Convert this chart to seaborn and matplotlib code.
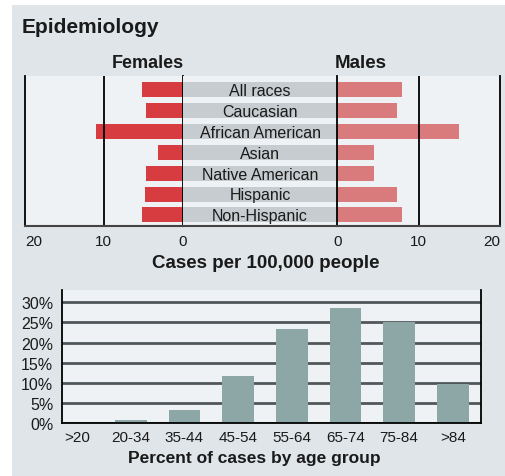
import matplotlib.pyplot as plt
import matplotlib.patches as mpatches
import numpy as np
import pandas as pd
import seaborn as sns

sns.set_theme(style="white")
plt.rcParams["font.family"] = ["Liberation Sans", "DejaVu Sans"]

races = ["All races", "Caucasian", "African American", "Asian",
         "Native American", "Hispanic", "Non-Hispanic"]
female_rates = [5.2, 4.6, 11.0, 3.1, 4.6, 4.8, 5.2]
male_rates = [7.9, 7.4, 14.9, 4.5, 4.5, 7.4, 7.9]

age_groups = [">20", "20-34", "35-44", "45-54", "55-64", "65-74", "75-84", ">84"]
age_pct = [0.0, 0.8, 3.3, 11.8, 23.4, 28.5, 25.1, 9.7]

rate_ticks = [20, 10, 0]
pct_ticks = [0, 5, 10, 15, 20, 25, 30]

bg = "#dfe5e8"
panel = "#eef2f4"
red_f = "#d63c40"
red_m = "#d97a7d"
band = "#c6cccf"
teal = "#8ca7a5"
grid_c = "#50575b"
txt = "#1a1a1a"

W, H = 505, 477
fig = plt.figure(figsize=(W / 100, H / 100), dpi=100, facecolor="white")
fig.patches.append(mpatches.Rectangle((12 / W, 0), 1, 1 - 6 / H,
                                      transform=fig.transFigure,
                                      facecolor=bg, edgecolor="none", zorder=-10))


def rect(x0, y0, x1, y1):
    return [x0 / W, 1 - y1 / H, (x1 - x0) / W, (y1 - y0) / H]


top, bot = 77, 227
xf0, xf1 = 25, 182.7
xm0, xm1 = 337.3, 500
ylim = (6.53, -0.66)

df_r = pd.DataFrame({"race": races, "female": female_rates, "male": male_rates})

# females
axF = fig.add_axes(rect(xf0, top, xf1, bot), facecolor=panel)
sns.barplot(data=df_r, x="female", y="race", orient="h", color=red_f,
            width=0.72, saturation=1, linewidth=0, ax=axF)
axF.set_xlim(20, 0)
axF.set_ylim(*ylim)
axF.axvline(10, color="black", lw=1.3)

# center band
axC = fig.add_axes(rect(xf1, top, xm0, bot), facecolor=panel)
axC.barh(np.arange(len(races)), 1, height=0.72, color=band, linewidth=0)
for i, r in enumerate(races):
    axC.text(0.5, i + 0.04, r, ha="center", va="center", fontsize=11.5, color=txt)
axC.set_xlim(0, 1)
axC.set_ylim(*ylim)

# males
axM = fig.add_axes(rect(xm0, top, xm1, bot), facecolor=panel)
sns.barplot(data=df_r, x="male", y="race", orient="h", color=red_m,
            width=0.72, saturation=1, linewidth=0, ax=axM)
axM.set_xlim(0, 20)
axM.set_ylim(*ylim)
axM.axvline(10, color="black", lw=1.3)

for ax in (axF, axC, axM):
    ax.set_xlabel("")
    ax.set_ylabel("")
    ax.set_yticks([])
    ax.spines["top"].set_visible(False)
    ax.spines["bottom"].set_color("#444444")
    ax.spines["bottom"].set_linewidth(1.5)
    for s in ("left", "right"):
        ax.spines[s].set_color("black")
        ax.spines[s].set_linewidth(1.3)
axC.spines["left"].set_visible(False)
axC.spines["right"].set_visible(False)
axC.set_xticks([])

for ax in (axF, axM):
    ax.set_xticks(rate_ticks)
    ax.set_xticklabels([str(t) for t in rate_ticks])
    ax.tick_params(axis="x", length=0, pad=6, labelsize=11, labelcolor=txt)
axF.get_xticklabels()[0].set_ha("left")
axM.get_xticklabels()[0].set_ha("right")

fig.text(22 / W, 1 - 33 / H, "Epidemiology", fontsize=15, fontweight="bold",
         color=txt, va="baseline")
fig.text(147.5 / W, 1 - 68 / H, "Females", fontsize=13, fontweight="bold",
         color=txt, ha="center", va="baseline")
fig.text(361 / W, 1 - 68 / H, "Males", fontsize=13.5, fontweight="bold",
         color=txt, ha="center", va="baseline")
fig.text(266 / W, 1 - 268 / H, "Cases per 100,000 people", fontsize=13.5,
         fontweight="bold", color=txt, ha="center", va="baseline")

# age group chart
df_a = pd.DataFrame({"age": age_groups, "pct": age_pct})
axA = fig.add_axes(rect(61.7, 291, 481, 424.3), facecolor=panel)
sns.barplot(data=df_a, x="age", y="pct", color=teal, width=0.59,
            saturation=1, linewidth=0, ax=axA, zorder=3)
axA.set_xlim(-0.285, 7.525)
axA.set_ylim(0, 33)
axA.set_yticks(pct_ticks)
axA.set_yticklabels([f"{t}%" for t in pct_ticks])
axA.yaxis.grid(True, color=grid_c, lw=2)
axA.set_axisbelow(True)
axA.tick_params(axis="both", length=0, labelsize=11.5, labelcolor=txt)
axA.tick_params(axis="x", pad=5, labelsize=11)
axA.tick_params(axis="y", pad=6)
axA.set_xlabel("")
axA.set_ylabel("")
axA.spines["top"].set_visible(False)
for s in ("left", "right", "bottom"):
    axA.spines[s].set_color("black")
    axA.spines[s].set_linewidth(1.3)
axA.spines["bottom"].set_zorder(4)

fig.text(254 / W, 1 - 463 / H, "Percent of cases by age group", fontsize=12.5,
         fontweight="bold", color=txt, ha="center", va="baseline")

fig.savefig("out.png", dpi=100, facecolor=fig.get_facecolor())
